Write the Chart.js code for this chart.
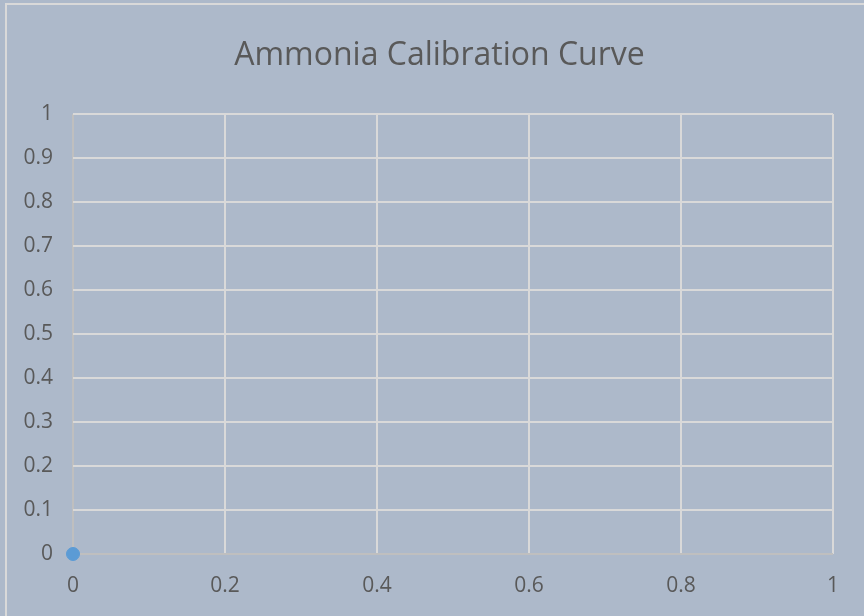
<!DOCTYPE html>
<html lang="en">
<head>
    <meta charset="UTF-8">
    <title>Ammonia Calibration Curve</title>
    <script src="https://cdn.jsdelivr.net/npm/chart.js"></script>
    <style>
        html, body { margin: 0; padding: 0; background: #ADB9CA; overflow: hidden; }
        #frame {
            position: absolute; left: 5px; top: 3px; width: 900px; height: 700px;
            border: 2px solid #D9D9D9; box-sizing: border-box;
        }
        #wrap { position: absolute; left: 0; top: 0; width: 864px; height: 616px; }
    </style>
</head>
<body>
    <div id="frame"></div>
    <div id="wrap"><canvas id="calChart" width="864" height="616"></canvas></div>
<script>
// Calibration data (only one point plotted)
const concentration = [0];
const absorbance = [0];

// Axis tick values
const xTicks = [0, 0.2, 0.4, 0.6, 0.8, 1];
const yTicks = [0, 0.1, 0.2, 0.3, 0.4, 0.5, 0.6, 0.7, 0.8, 0.9, 1];

const labelColor = '#595959';
const gridColor = '#D9D9D9';
const axisColor = '#BFBFBF';

const points = concentration.map((x, i) => ({ x: x, y: absorbance[i] }));

const ctx = document.getElementById('calChart').getContext('2d');
new Chart(ctx, {
    type: 'scatter',
    data: {
        datasets: [{
            label: 'Absorbance',
            data: points,
            backgroundColor: '#5B9BD5',
            borderColor: '#5B9BD5',
            pointRadius: 6.5,
            clip: false
        }]
    },
    options: {
        responsive: false,
        animation: false,
        // left padding shifts the title centre a bit to the right, like the original
        layout: { padding: { top: 0, right: 0, left: 15, bottom: 0 } },
        plugins: {
            legend: { display: false },
            tooltip: { enabled: false },
            title: {
                display: true,
                text: 'Ammonia Calibration Curve',
                color: labelColor,
                font: { family: 'Open Sans', size: 32, weight: 'normal', lineHeight: 1.2 },
                padding: { top: 37, bottom: 38.6 }
            }
        },
        scales: {
            x: {
                type: 'linear',
                min: 0,
                max: 1,
                afterBuildTicks: scale => { scale.ticks = xTicks.map(v => ({ value: v })); },
                afterFit: scale => { scale.height = 62; scale.paddingRight = 31; },
                grid: {
                    color: c => c.index === 0 ? axisColor : gridColor,
                    lineWidth: 2,
                    drawTicks: false
                },
                border: { display: false },
                ticks: {
                    color: labelColor,
                    font: { family: 'Open Sans', size: 21 },
                    padding: 19,
                    callback: v => +v.toFixed(1)
                }
            },
            y: {
                type: 'linear',
                min: 0,
                max: 1,
                afterBuildTicks: scale => { scale.ticks = yTicks.map(v => ({ value: v })); },
                afterFit: scale => { scale.width = 58; },
                grid: {
                    color: c => c.index === 0 ? axisColor : gridColor,
                    lineWidth: 2,
                    drawTicks: false
                },
                border: { display: false },
                ticks: {
                    color: labelColor,
                    font: { family: 'Open Sans', size: 21 },
                    padding: 20,
                    callback: v => +v.toFixed(1)
                }
            }
        }
    }
});
</script>
</body>
</html>
